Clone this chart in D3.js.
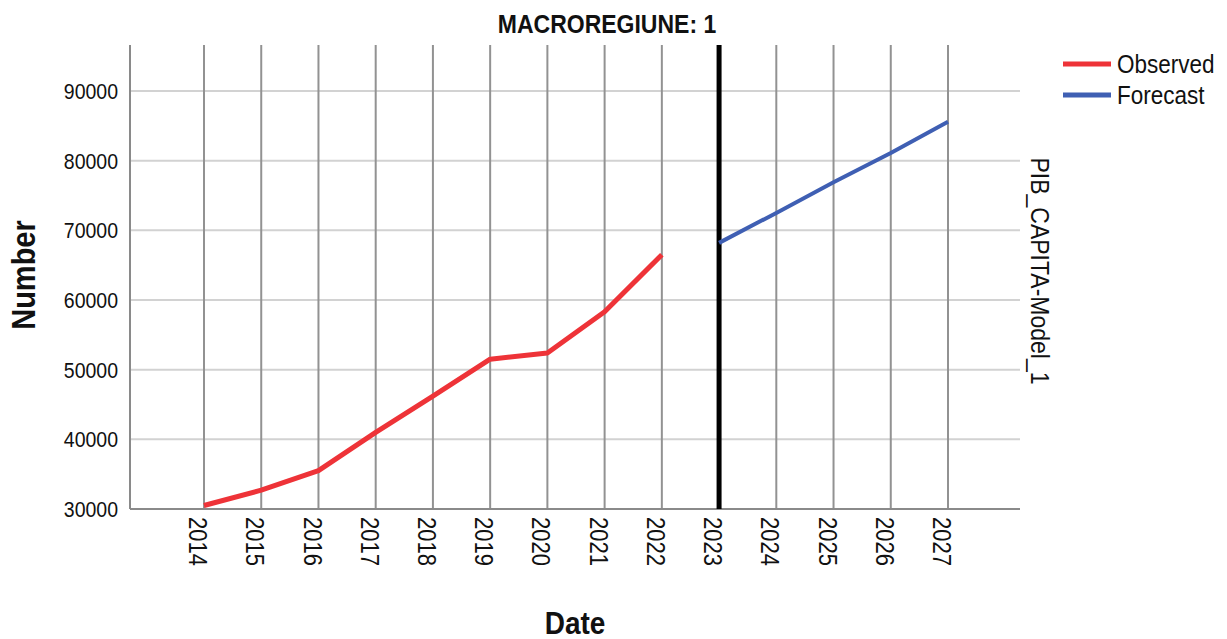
<!DOCTYPE html>
<html><head><meta charset="utf-8">
<script src="https://cdn.jsdelivr.net/npm/d3@7"></script>
<style>body{margin:0;background:#fff}svg{display:block}text{font-family:"Liberation Sans",Arial,sans-serif;fill:#111}</style>
</head><body><svg id="c" width="1227" height="639"></svg>
<script>
const years = [2014,2015,2016,2017,2018,2019,2020,2021,2022,2023,2024,2025,2026,2027];
const obsYears = [2014,2015,2016,2017,2018,2019,2020,2021,2022];
const obsValues = [30500,32700,35500,41000,46200,51500,52400,58300,66500];
const fcYears = [2023,2024,2025,2026,2027];
const fcValues = [68200,72500,76900,81100,85600];
const yTicks = [30000,40000,50000,60000,70000,80000,90000];
const cutYear = 2023;
const title = "MACROREGIUNE: 1";
const yTitle = "Number", xTitle = "Date", rightTitle = "PIB_CAPITA-Model_1";
const legendItems = [{name:"Observed",color:"#ee3338"},{name:"Forecast",color:"#3f5fb3"}];

const svg = d3.select("#c");
const L=130,R=1020,T=45,B=509;
const K=1.13; // vertical stretch of glyphs
const step=(948-204)/13;
const x = d3.scaleLinear().domain([2014-(204-L)/step, 2027+(R-948)/step]).range([L,R]);
const y = d3.scaleLinear().domain([30000, 30000+(B-T)/(418/60000)]).range([B,T]);

svg.append("g").selectAll("line").data(yTicks.slice(1)).join("line")
  .attr("x1",L).attr("x2",R).attr("y1",d=>y(d)).attr("y2",d=>y(d))
  .attr("stroke","#d2d2d2").attr("stroke-width",2);
svg.append("g").selectAll("line").data(years).join("line")
  .attr("x1",d=>x(d)).attr("x2",d=>x(d)).attr("y1",T).attr("y2",B)
  .attr("stroke","#929292").attr("stroke-width",2);
svg.append("line").attr("x1",L).attr("x2",L).attr("y1",T).attr("y2",B).attr("stroke","#8a8a8a").attr("stroke-width",2);
svg.append("line").attr("x1",L).attr("x2",R).attr("y1",B).attr("y2",B).attr("stroke","#8a8a8a").attr("stroke-width",2);

svg.append("g").selectAll("text").data(yTicks).join("text")
  .attr("transform",d=>`translate(118,${y(d)}) scale(1,${K})`).attr("dy","0.36em").attr("text-anchor","end")
  .style("font-size","19.5px").text(d=>d);
svg.append("g").selectAll("text").data(years).join("text")
  .attr("transform",d=>`translate(${x(d)-6},517) rotate(90) scale(1,${K})`)
  .attr("dy","0.36em").style("font-size","22px").text(d=>d);

svg.append("line").attr("x1",x(cutYear)).attr("x2",x(cutYear)).attr("y1",T).attr("y2",B)
  .attr("stroke","#000").attr("stroke-width",5);

const line = d3.line().x(d=>x(d[0])).y(d=>y(d[1]));
svg.append("path").datum(obsYears.map((d,i)=>[d,obsValues[i]])).attr("d",line)
  .attr("fill","none").attr("stroke",legendItems[0].color).attr("stroke-width",5).attr("stroke-linejoin","round");
svg.append("path").datum(fcYears.map((d,i)=>[d,fcValues[i]])).attr("d",line)
  .attr("fill","none").attr("stroke",legendItems[1].color).attr("stroke-width",4).attr("stroke-linejoin","round");

svg.append("text").attr("transform",`translate(607,33) scale(1,${K})`).attr("text-anchor","middle")
  .style("font-size","23px").style("font-weight","bold").text(title);
svg.append("text").attr("transform",`translate(35,275) rotate(-90) scale(1,${K})`).attr("text-anchor","middle")
  .style("font-size","29px").style("font-weight","bold").text(yTitle);
svg.append("text").attr("transform",`translate(575,634) scale(1,${K})`).attr("text-anchor","middle")
  .style("font-size","28px").style("font-weight","bold").text(xTitle);
svg.append("text").attr("transform",`translate(1040,271) rotate(90) scale(1,${K})`).attr("text-anchor","middle")
  .attr("dy","0.36em").style("font-size","23px").text(rightTitle);

const lg = svg.append("g").selectAll("g").data(legendItems).join("g")
  .attr("transform",(d,i)=>`translate(1063,${64+i*31})`);
lg.append("line").attr("x1",0).attr("x2",48).attr("stroke",d=>d.color).attr("stroke-width",5);
lg.append("text").attr("x",54).attr("transform",`scale(1,${K})`).attr("dy","0.36em").style("font-size","22.5px").text(d=>d.name);
</script></body></html>
